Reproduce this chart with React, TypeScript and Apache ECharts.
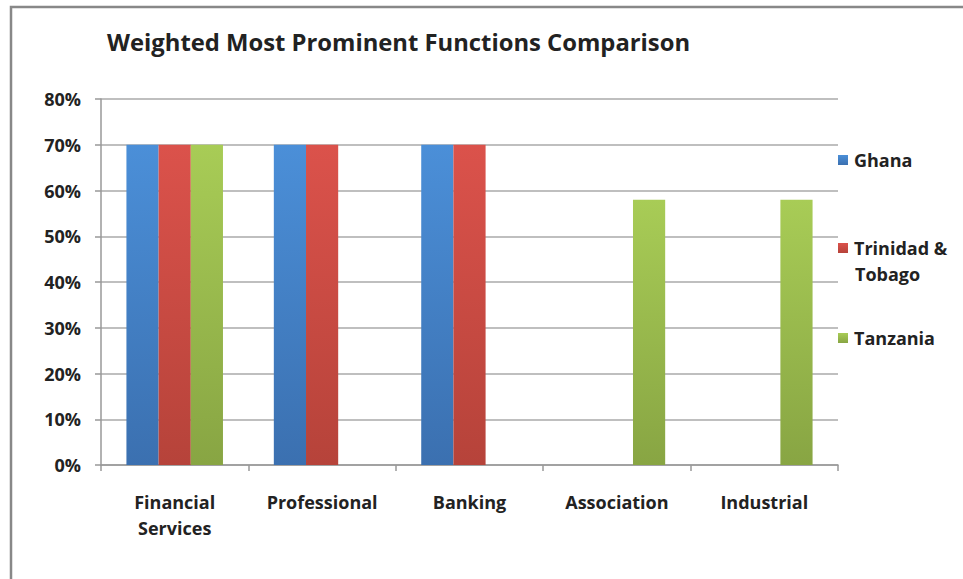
import React, { useEffect, useRef } from "react";
import * as echarts from "echarts";

const categories = ["Financial\nServices", "Professional", "Banking", "Association", "Industrial"];
const ghana = [70, 70, 70, null, null];
const trinidad = [70, 70, 70, null, null];
const tanzania = [70, null, null, 58, 58];
const yTicks = [0, 10, 20, 30, 40, 50, 60, 70, 80];

const FONT = "'Open Sans', sans-serif";

function grad(top: string, bottom: string) {
  return new echarts.graphic.LinearGradient(0, 0, 0, 1, [
    { offset: 0, color: top },
    { offset: 1, color: bottom },
  ]);
}

export default function App() {
  const ref = useRef<HTMLDivElement>(null);
  useEffect(() => {
    if (!ref.current) return;
    const chart = echarts.init(ref.current, undefined, { renderer: "svg" });
    const legendText = { fontFamily: FONT, fontWeight: "bold" as const, fontSize: 18, color: "#222" };
    const mkLegend = (name: string, top: number, fmt?: string) => ({
      data: [name],
      orient: "vertical" as const,
      left: 838,
      top,
      icon: "rect",
      itemWidth: 10,
      itemHeight: 10,
      itemGap: 4,
      padding: 0,
      selectedMode: false,
      textStyle: { ...legendText, padding: [0, 0, 0, 1] },
      formatter: fmt ? () => fmt : undefined,
    });
    chart.setOption({
      animation: false,
      backgroundColor: "#fff",
      title: {
        text: "Weighted Most Prominent Functions Comparison",
        left: 107,
        top: 30,
        padding: 0,
        textStyle: { fontFamily: FONT, fontWeight: "bold", fontSize: 23.8, color: "#222" },
      },
      legend: [
        mkLegend("Ghana", 151),
        mkLegend("Trinidad & Tobago", 239, "Trinidad &"),
        mkLegend("Tanzania", 329),
      ],
      grid: { left: 101, right: 125, top: 99, bottom: 114, containLabel: false },
      xAxis: {
        type: "category",
        data: categories,
        axisLine: { lineStyle: { color: "#999", width: 1.5 } },
        axisTick: { show: true, length: 6, lineStyle: { color: "#999", width: 1.5 } },
        axisLabel: {
          fontFamily: FONT,
          fontWeight: "bold",
          fontSize: 18,
          color: "#222",
          margin: 24,
          lineHeight: 26,
          interval: 0,
        },
      },
      yAxis: {
        type: "value",
        min: 0,
        max: 80,
        interval: 10,
        axisLine: { show: true, lineStyle: { color: "#999", width: 1.5 } },
        axisTick: { show: true, length: 6, lineStyle: { color: "#999", width: 1.5 } },
        splitLine: { lineStyle: { color: "#aaa", width: 1.5 } },
        axisLabel: {
          fontFamily: FONT,
          fontWeight: "bold",
          fontSize: 18,
          color: "#222",
          margin: 20,
          formatter: (v: number) => (yTicks.includes(v) ? v + "%" : ""),
        },
      },
      series: [
        {
          name: "Ghana",
          type: "bar",
          data: ghana,
          barGap: "0%",
          barCategoryGap: "34.5%",
          itemStyle: { color: grad("#4b8fd8", "#3b70b0") },
        },
        {
          name: "Trinidad & Tobago",
          type: "bar",
          data: trinidad,
          barGap: "0%",
          barCategoryGap: "34.5%",
          itemStyle: { color: grad("#db524b", "#b6433a") },
        },
        {
          name: "Tanzania",
          type: "bar",
          data: tanzania,
          barGap: "0%",
          barCategoryGap: "34.5%",
          itemStyle: { color: grad("#a8cc56", "#88a543") },
        },
      ],
      graphic: [
        {
          type: "text",
          left: 855,
          top: 265,
          style: { text: "Tobago", fontFamily: FONT, fontWeight: "bold", fontSize: 18, fill: "#222" },
        },
        {
          type: "polyline",
          shape: { points: [[11, 579], [11, 7], [963, 7]] },
          style: { stroke: "#888", lineWidth: 2.5, fill: "none" },
        },
      ],
    });
    return () => chart.dispose();
  }, []);
  return <div ref={ref} style={{ position: "fixed", left: 0, top: 0, width: 963, height: 579 }} />;
}
